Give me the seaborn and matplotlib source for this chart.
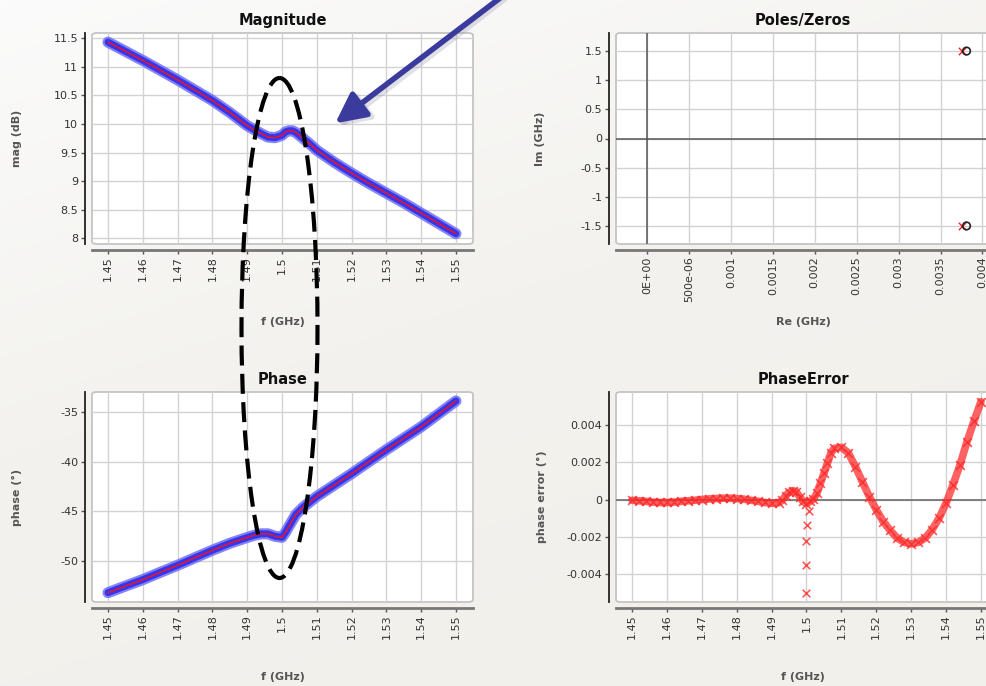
import numpy as np
import pandas as pd
import matplotlib
matplotlib.use("Agg")
import matplotlib.pyplot as plt
import seaborn as sns
from matplotlib.patches import FancyBboxPatch, Ellipse, FancyArrowPatch
from matplotlib.colors import LinearSegmentedColormap

sns.set_theme(style="white")
plt.rcParams["font.family"] = ["DejaVu Sans"]

# ---------------- data ----------------
freq = [1.45, 1.455, 1.46, 1.465, 1.47, 1.475, 1.48, 1.485, 1.49, 1.492, 1.494, 1.496,
        1.498, 1.5, 1.501, 1.502, 1.503, 1.504, 1.506, 1.508, 1.51, 1.515, 1.52, 1.525,
        1.53, 1.535, 1.54, 1.545, 1.55]
mag_db = [11.43, 11.27, 11.11, 10.94, 10.77, 10.59, 10.41, 10.20, 9.97, 9.90, 9.83, 9.77,
          9.76, 9.80, 9.86, 9.88, 9.88, 9.85, 9.75, 9.65, 9.54, 9.33, 9.14, 8.96,
          8.79, 8.62, 8.44, 8.26, 8.08]
phase_deg = [-53.16, -52.5, -51.85, -51.12, -50.41, -49.65, -48.9, -48.2, -47.62, -47.4, -47.25, -47.25,
             -47.5, -47.6, -47.1, -46.5, -45.9, -45.3, -44.6, -44.05, -43.5, -42.35, -41.2, -40.0,
             -38.8, -37.65, -36.5, -35.2, -33.9]

pe_freq = [1.450, 1.452, 1.454, 1.456, 1.458, 1.460, 1.462, 1.464, 1.466, 1.468, 1.470, 1.472,
           1.474, 1.476, 1.478, 1.480, 1.482, 1.484, 1.486, 1.488, 1.490, 1.492,
           1.493, 1.494, 1.495, 1.496, 1.497, 1.498, 1.499, 1.500, 1.501, 1.502, 1.503,
           1.504, 1.505, 1.506, 1.507, 1.508,
           1.510, 1.512, 1.514, 1.516, 1.518, 1.520, 1.522, 1.524, 1.526, 1.528, 1.530,
           1.532, 1.534, 1.536, 1.538, 1.540, 1.542, 1.544, 1.546, 1.548, 1.550]
pe_val = [-0.00004, -0.00007, -0.0001, -0.00014, -0.00016, -0.00016, -0.00014, -0.0001, -0.00007,
          -0.00004, 0.0, 0.00003, 0.00005, 0.00007, 0.00007, 0.00005, 0.00002, -0.00004, -0.00009,
          -0.00016, -0.0002, -0.00018,
          -0.00005, 0.0002, 0.00038, 0.00048, 0.00043, 0.00016, -0.0001, -0.00023, -0.0001, 0.00002,
          0.00034, 0.00088, 0.0014, 0.00195, 0.0025, 0.00275,
          0.0028, 0.0025, 0.00177, 0.00096, 0.00016, -0.00055, -0.00118, -0.00166, -0.00207, -0.0023,
          -0.00238, -0.0023, -0.00207, -0.00162, -0.001, -0.0002, 0.00079, 0.00186, 0.0031, 0.0042,
          0.00525]
pe_out_freq = [1.5007, 1.5002, 1.5, 1.4999, 1.4998]
pe_out_val = [-0.00064, -0.00136, -0.00225, -0.0035, -0.005]

pole_re = [0.00376, 0.00376]
pole_im = [1.5, -1.5]
zero_re = [0.00381, 0.00381]
zero_im = [1.5, -1.5]

f_ticks = [1.45, 1.46, 1.47, 1.48, 1.49, 1.5, 1.51, 1.52, 1.53, 1.54, 1.55]
f_labels = ["1.45", "1.46", "1.47", "1.48", "1.49", "1.5", "1.51", "1.52", "1.53", "1.54", "1.55"]
mag_ticks = [8, 8.5, 9, 9.5, 10, 10.5, 11, 11.5]
mag_labels = ["8", "8.5", "9", "9.5", "10", "10.5", "11", "11.5"]
phase_ticks = [-50, -45, -40, -35]
phase_labels = ["-50", "-45", "-40", "-35"]
pe_ticks = [-0.004, -0.002, 0, 0.002, 0.004]
pe_labels = ["-0.004", "-0.002", "0", "0.002", "0.004"]
re_ticks = [0, 0.0005, 0.001, 0.0015, 0.002, 0.0025, 0.003, 0.0035, 0.004]
re_labels = ["0E+00", "500e-06", "0.001", "0.0015", "0.002", "0.0025", "0.003", "0.0035", "0.004"]
im_ticks = [-1.5, -1, -0.5, 0, 0.5, 1, 1.5]
im_labels = ["-1.5", "-1", "-0.5", "0", "0.5", "1", "1.5"]

df_mp = pd.DataFrame({"f": freq, "mag": mag_db, "phase": phase_deg})
df_pe = pd.DataFrame({"f": pe_freq, "err": pe_val})

W, H = 986, 686
fig = plt.figure(figsize=(W / 100, H / 100), dpi=100)

# background gradient
bg = fig.add_axes([0, 0, 1, 1], zorder=-5)
yy, xx = np.mgrid[0:1:200j, 0:1:200j]
t = np.clip(0.75 * yy + 0.35 * xx, 0, 1)
cmap_bg = LinearSegmentedColormap.from_list("bg", ["#fbfbfb", "#f3f2ee", "#f1f0eb"])
bg.imshow(t, cmap=cmap_bg, extent=[0, 1, 0, 1], aspect="auto", origin="upper")
bg.set_axis_off()


def px_axes(left, top, right, bottom):
    return fig.add_axes([left / W, 1 - bottom / H, (right - left) / W, (bottom - top) / H])


def style(ax, title, xlabel, ylabel, ylab_x, xlab_y):
    ax.patch.set_visible(False)
    box = FancyBboxPatch((0, 0), 1, 1, boxstyle="round,pad=0,rounding_size=0.012",
                         transform=ax.transAxes, facecolor="white", edgecolor="#c4c4c4",
                         lw=1.3, zorder=0, clip_on=False)
    ax.add_patch(box)
    for s in ["top", "right"]:
        ax.spines[s].set_visible(False)
    ax.spines["left"].set_position(("outward", 5))
    ax.spines["bottom"].set_position(("outward", 4))
    ax.spines["left"].set_color("#222222")
    ax.spines["left"].set_linewidth(1.3)
    ax.spines["bottom"].set_color("#777777")
    ax.spines["bottom"].set_linewidth(2)
    ax.grid(True, color="#d2d2d2", lw=1)
    ax.set_axisbelow(True)
    ax.tick_params(axis="both", which="major", length=3, width=1, color="#555555",
                   labelsize=8, labelcolor="#333333", direction="out", left=True, bottom=True,
                   pad=2)
    ax.tick_params(axis="x", labelrotation=90)
    ax.set_title(title, fontsize=10.5, fontweight="bold", color="#111111", pad=6)
    ax.set_xlabel(xlabel, fontsize=8, fontweight="bold", color="#555555")
    ax.set_ylabel(ylabel, fontsize=8, fontweight="bold", color="#555555")
    ax.xaxis.set_label_coords(0.5, xlab_y)
    ax.yaxis.set_label_coords(ylab_x, 0.5)


def thick_line(ax, x, y):
    sns.lineplot(x=x, y=y, ax=ax, color="#6f6ff5", lw=8, alpha=0.85,
                 estimator=None, sort=False, solid_capstyle="round", zorder=3)
    sns.lineplot(x=x, y=y, ax=ax, color="#3535ee", lw=5,
                 estimator=None, sort=False, solid_capstyle="round", zorder=4)
    sns.lineplot(x=x, y=y, ax=ax, color="#ff1010", lw=1.0,
                 estimator=None, sort=False, zorder=5)


# ---- Magnitude ----
ax1 = px_axes(92, 33, 473, 244)
thick_line(ax1, df_mp["f"], df_mp["mag"])
ax1.set_xlim(1.4454, 1.5549)
ax1.set_ylim(7.9, 11.59)
ax1.set_xticks(f_ticks, f_labels)
ax1.set_yticks(mag_ticks, mag_labels)
style(ax1, "Magnitude", "f (GHz)", "mag (dB)", -0.184, -0.345)

# ---- Poles / Zeros ----
ax2 = px_axes(616, 33, 990, 244)
ax2.axhline(0, color="#555555", lw=1.1, zorder=2)
ax2.axvline(0, color="#555555", lw=1.1, zorder=2)
sns.scatterplot(x=pole_re, y=pole_im, ax=ax2, marker="x", color="#ee2222", s=28,
                linewidth=1.0, zorder=5)
sns.scatterplot(x=zero_re, y=zero_im, ax=ax2, marker="o", facecolor="none",
                edgecolor="#222222", s=30, linewidth=1.2, zorder=6)
ax2.set_xlim(-0.00037, 0.00409)
ax2.set_ylim(-1.81, 1.81)
ax2.set_xticks(re_ticks, re_labels)
ax2.set_yticks(im_ticks, im_labels)
style(ax2, "Poles/Zeros", "Re (GHz)", "Im (GHz)", -0.19, -0.345)

# ---- Phase ----
ax3 = px_axes(92, 392, 473, 602)
thick_line(ax3, df_mp["f"], df_mp["phase"])
ax3.set_xlim(1.4454, 1.5549)
ax3.set_ylim(-54.1, -33.0)
ax3.set_xticks(f_ticks, f_labels)
ax3.set_yticks(phase_ticks, phase_labels)
style(ax3, "Phase", "f (GHz)", "phase (°)", -0.184, -0.335)

# ---- PhaseError ----
ax4 = px_axes(616, 392, 990, 602)
ax4.axhline(0, color="#777777", lw=1.3, zorder=2)
sns.lineplot(x=df_pe["f"], y=df_pe["err"], ax=ax4, color="#ff2020", lw=5.5, alpha=0.7,
             estimator=None, sort=False, zorder=3)
sns.scatterplot(x=df_pe["f"], y=df_pe["err"], ax=ax4, marker="x", color="#ff2a2a", s=40,
                linewidth=1.2, alpha=0.8, zorder=4)
sns.scatterplot(x=pe_out_freq, y=pe_out_val, ax=ax4, marker="x", color="#ff3030", s=30,
                linewidth=1.1, alpha=0.85, zorder=4)
ax4.set_xlim(1.4454, 1.5526)
ax4.set_ylim(-0.0055, 0.00577)
ax4.set_xticks(f_ticks, f_labels)
ax4.set_yticks(pe_ticks, pe_labels)
style(ax4, "PhaseError", "f (GHz)", "phase error (°)", -0.184, -0.335)

# ---- overlay annotations (pixel space) ----
ov = fig.add_axes([0, 0, 1, 1], zorder=20)
ov.set_xlim(0, W)
ov.set_ylim(H, 0)
ov.patch.set_visible(False)
ov.set_axis_off()
ov.add_patch(Ellipse((279.5, 328), 76, 500, fill=False, ec="black", lw=3,
                     ls=(0, (4.8, 2.0))))
arrow_shadow = FancyArrowPatch((507, -3), (336, 128), arrowstyle="-|>,head_length=1.3,head_width=0.65",
                               mutation_scale=14, lw=4.5, color="#9a9ab0", alpha=0.3)
ov.add_patch(arrow_shadow)
arrow = FancyArrowPatch((504, -5), (333, 125), arrowstyle="-|>,head_length=1.3,head_width=0.65",
                        mutation_scale=14, lw=4, color="#3b3b9e")
ov.add_patch(arrow)

fig.savefig("out.png", dpi=100, facecolor=fig.get_facecolor())
